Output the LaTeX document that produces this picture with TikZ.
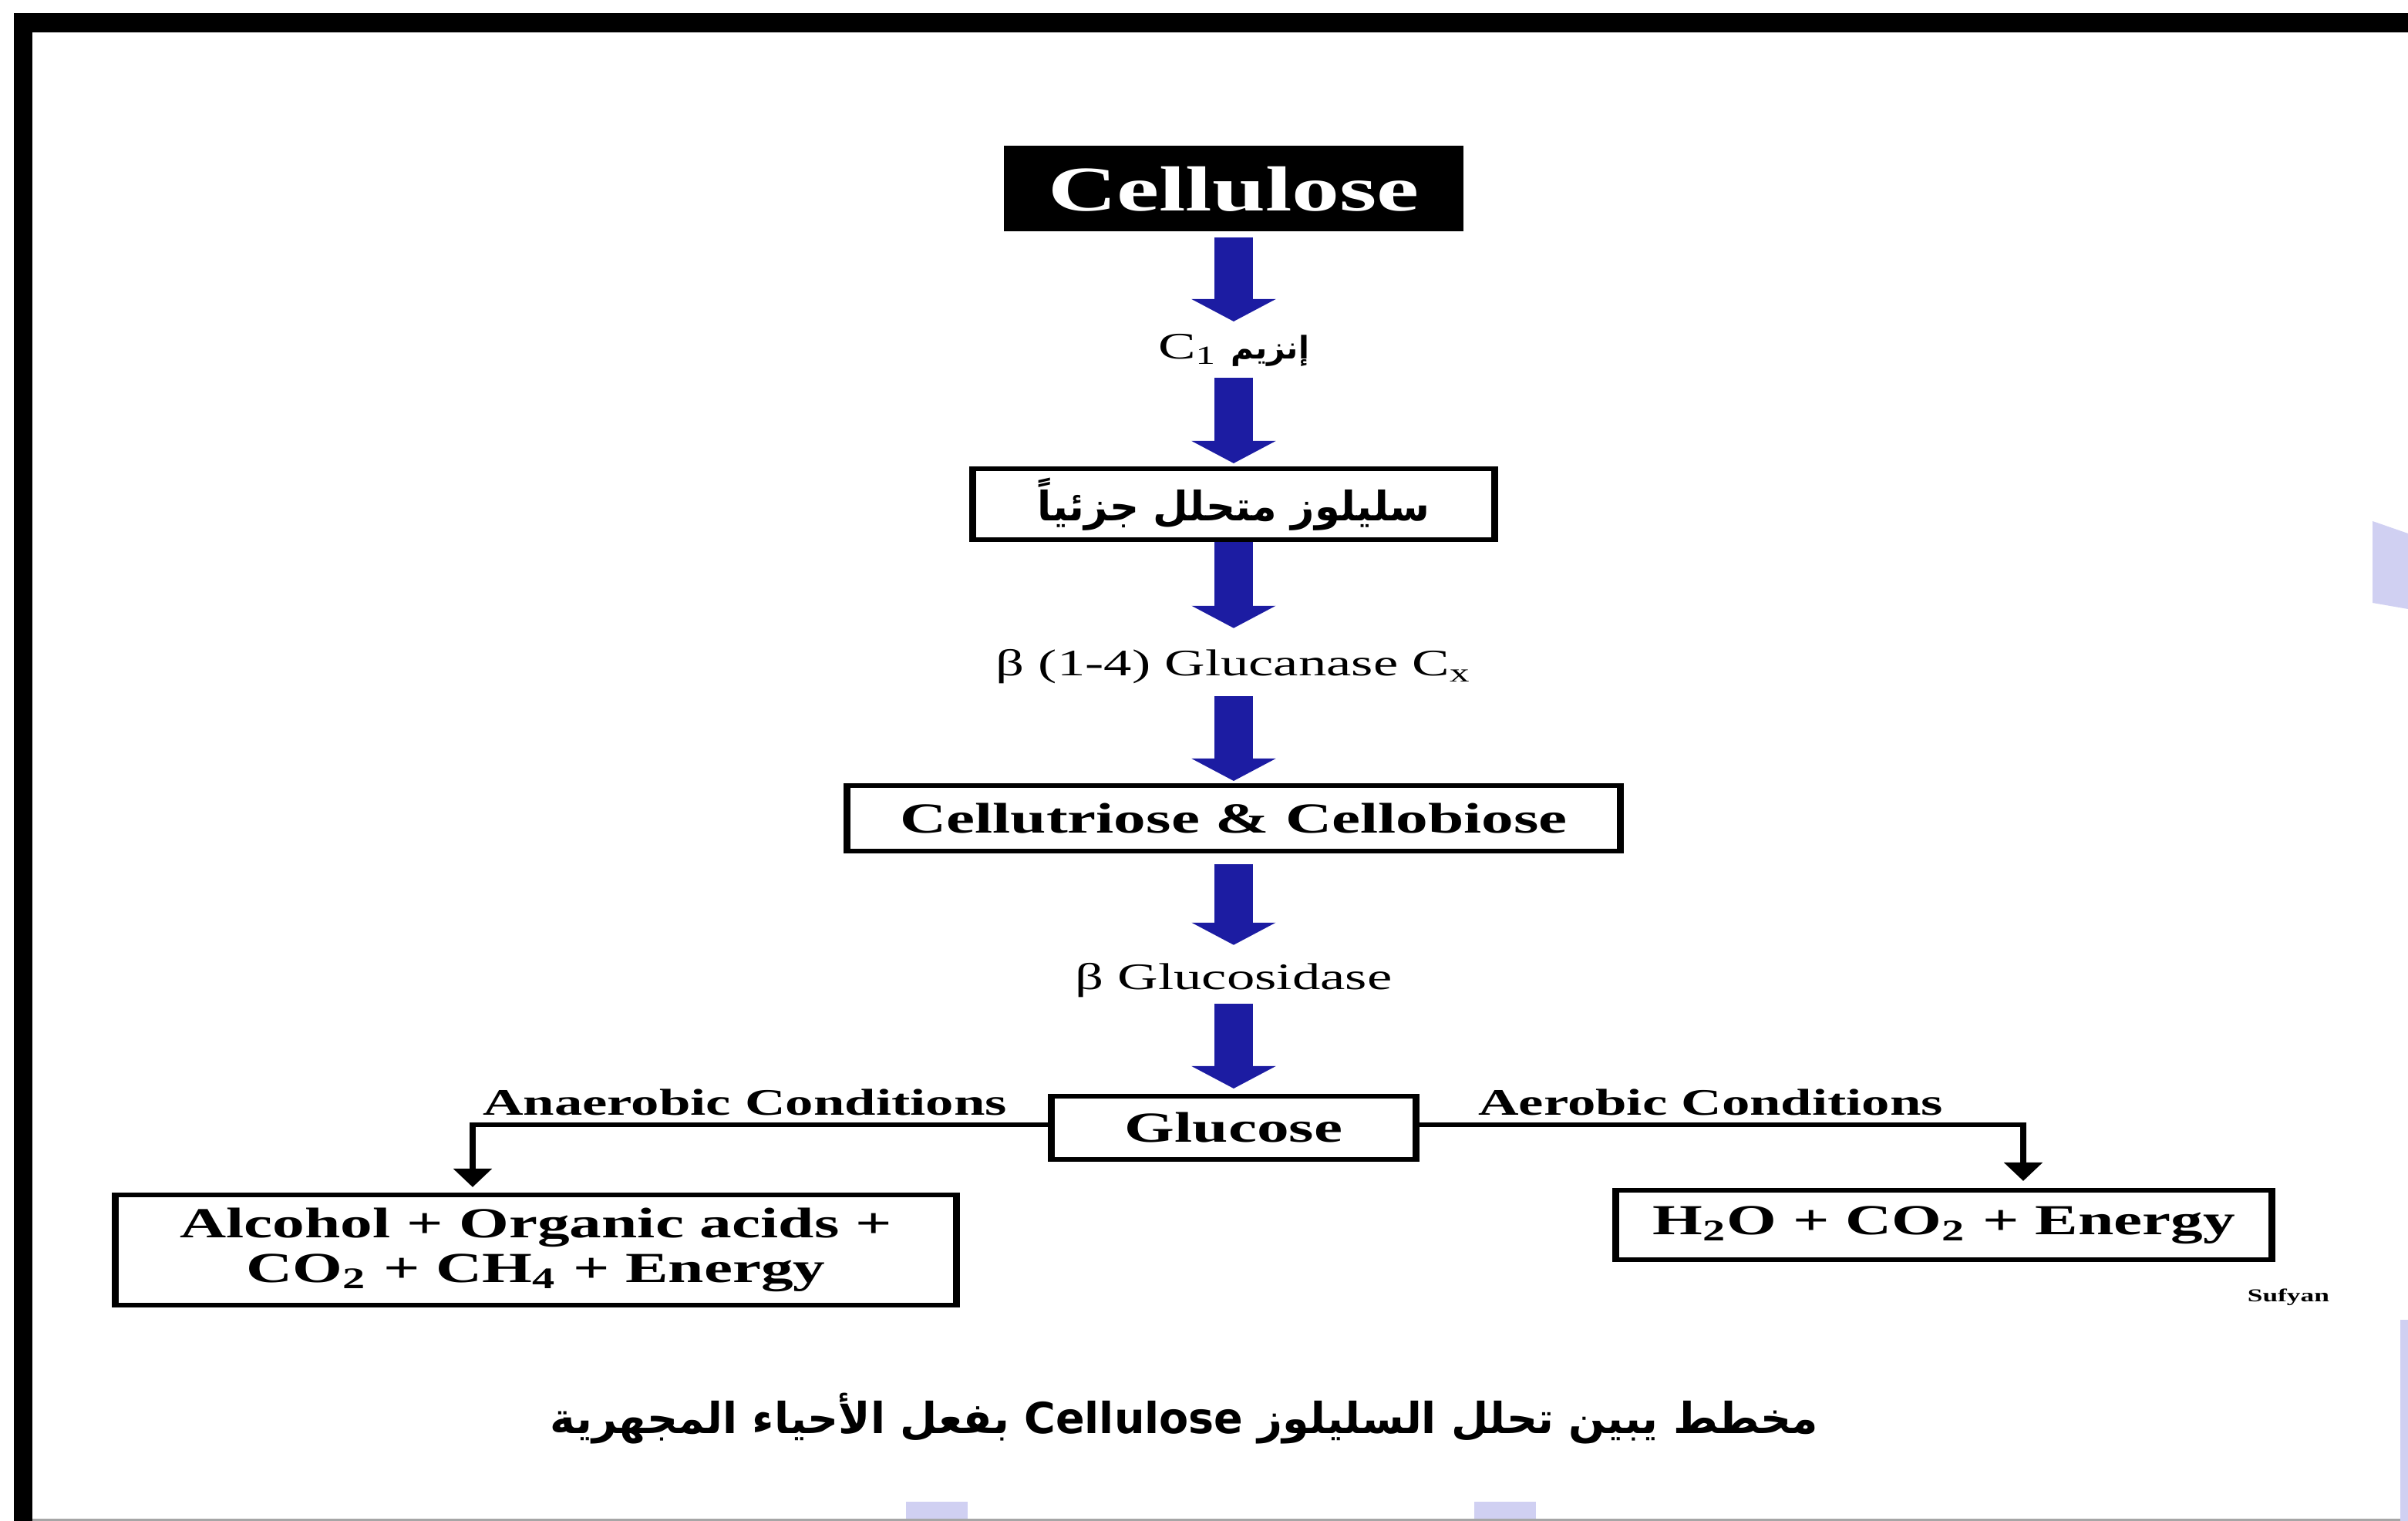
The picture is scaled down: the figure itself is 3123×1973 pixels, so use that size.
\documentclass[tikz,border=0pt]{standalone}
\usepackage{fontspec}
\setmainfont{Liberation Serif}
\newfontfamily\arabicfont[Script=Arabic]{DejaVu Sans}
\TeXXeTstate=1
\usepackage{graphicx}
\usepackage{tikz}
\usetikzlibrary{positioning,arrows.meta}
\definecolor{flowblue}{RGB}{28,28,162}
\definecolor{scanlav}{RGB}{208,208,242}
\newcommand{\narrow}[1]{\scalebox{0.667}[1]{#1}}

\begin{document}
\begin{tikzpicture}[x=0.1mm, y=-0.1mm,
  box/.style={draw, line width=0.6mm, inner sep=0pt, outer sep=0pt, align=center,
    font=\bfseries\fontsize{15.8}{16.5}\selectfont},
  cellbox/.style={fill=black, text=white, inner sep=0pt, outer sep=0pt,
    minimum width=39.67mm, minimum height=11.1mm, font=\bfseries\fontsize{23.5}{26}\selectfont},
  lbl/.style={inner sep=0pt, outer sep=0pt, minimum height=4.4mm, font=\fontsize{13.8}{15}\selectfont},
  cond/.style={inner sep=0.9mm, font=\bfseries\fontsize{13.8}{15}\selectfont},
  blk/.style={flowblue, line width=3.33mm, -{Triangle[length=2.9mm, width=7.13mm]}},
  arr/.style={line width=0.55mm, -{Triangle[length=2.4mm, width=3.2mm]}}]
\useasboundingbox (0,0) rectangle (3123,1973);
\fill[black] (18,17) rectangle (3123,42);
\fill[black] (18,17) rectangle (42,1973);
\draw[gray!70, line width=0.3mm] (42,1971) -- (3123,1971);
\fill[scanlav] (3077,676) -- (3123,692) -- (3123,790) -- (3077,782) -- cycle;
\fill[scanlav] (3113,1712) rectangle (3123,1973);
\fill[scanlav] (1175,1948) rectangle (1255,1970);
\fill[scanlav] (1912,1948) rectangle (1992,1970);
\node[inner sep=0pt, font=\arabicfont\bfseries\fontsize{15.8}{19}\selectfont] (capt) at (1536,1840)
  {\beginR مخطط يبين تحلل السليلوز \beginL Cellulose\endL{} بفعل الأحياء المجهرية\endR};
\begin{scope}[transform canvas={xscale=1.5}, x=0.06667mm, on grid]
\node[cellbox] (cell) at (1600,245) {Cellulose};
\node[lbl, below=20.9mm of cell] (enz1) {C\textsubscript{1} \narrow{\arabicfont\bfseries\fontsize{11.5}{13}\selectfont\beginR إنزيم\endR}};
\node[box, minimum width=45.07mm, minimum height=9.2mm, below=20mm of enz1] (part)
  {\narrow{\arabicfont\fontsize{15}{18}\selectfont\beginR سليلوز متحلل جزئياً\endR}};
\node[lbl, below=21.1mm of part] (glcn) {β (1-4) Glucanase C\textsubscript{x}};
\node[box, minimum width=66.87mm, minimum height=8.5mm, below=19.7mm of glcn] (tri) {Cellutriose \& Cellobiose};
\node[lbl, below=21mm of tri] (gls) {β Glucosidase};
\node[box, minimum width=31.53mm, minimum height=8.2mm, below=19.1mm of gls] (glu) {Glucose};
\node[box, minimum width=72.67mm, minimum height=14.3mm, below left=15.85mm and 60.33mm of glu] (anaer)
  {Alcohol + Organic acids +\\ CO\textsubscript{2} + CH\textsubscript{4} + Energy};
\node[box, minimum width=56.67mm, minimum height=9mm, below right=12.6mm and 61.4mm of glu] (aer)
  {H\textsubscript{2}O + CO\textsubscript{2} + Energy};
\node[inner sep=0pt, font=\bfseries\fontsize{6.7}{7}\selectfont] (sign) at (2968,1683) {Sufyan};
\draw[blk, shorten <=0.75mm, shorten >=1.5mm] (cell) -- (enz1);
\draw[blk, shorten <=1.4mm, shorten >=0.7mm] (enz1) -- (part);
\draw[blk, shorten <=0.3mm, shorten >=2.8mm] (part) -- (glcn);
\draw[blk, shorten <=1.6mm, shorten >=0.65mm] (glcn) -- (tri);
\draw[blk, shorten <=1.65mm, shorten >=2.4mm] (tri) -- (gls);
\draw[blk, shorten <=0.8mm, shorten >=1mm] (gls) -- (glu);
\draw[arr, shorten >=1mm] ([yshift=0.4mm]glu.west) -| node[cond, above, pos=0.25, xshift=-1.47mm] {Anaerobic Conditions} ([xshift=-5.47mm]anaer.north);
\draw[arr, shorten >=1.2mm] ([yshift=0.4mm]glu.east) -| node[cond, above, pos=0.25, xshift=-0.77mm] {Aerobic Conditions} ([xshift=6.87mm]aer.north);
\end{scope}
\end{tikzpicture}
\end{document}
